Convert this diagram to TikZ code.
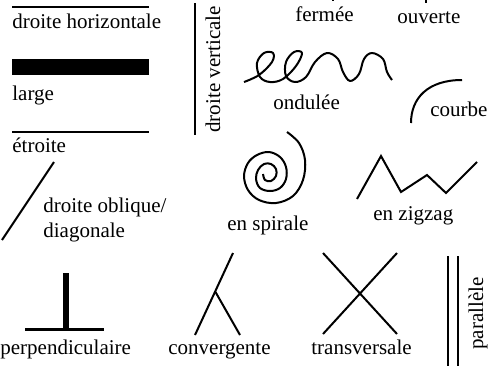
\documentclass[tikz,border=0pt]{standalone}
\usepackage{fontspec}
\setmainfont{Liberation Serif}
\usetikzlibrary{positioning}

\begin{document}
\begin{tikzpicture}[
    x=0.5pt, y=-0.5pt,
    term/.style={font=\fontsize{10.5}{12}\selectfont, inner sep=0pt, anchor=base west},
    trait/.style={line width=1pt, line cap=butt},
    fin/.style={line width=0.6pt}
  ]
  \useasboundingbox (0,0) rectangle (491,365);

  % lignes droites
  \draw[trait] (12,7) -- (149,7);
  \node[term] (horiz) at (12,28) {droite horizontale};
  \fill (12,59) rectangle (149,75);
  \node[term] (large) at (12,100) {large};
  \draw[fin] (12,132) -- (149,132);
  \node[term] (etroite) at (12,152) {étroite};
  \draw[trait] (195,3) -- (195,135);
  \node[term, rotate=90] (vert) at (220,133) {droite verticale};

  % fermee / ouverte (coupees en haut)
  \draw[trait] (333,-4) -- (333,1);
  \draw[line width=1.4pt] (426,-4) -- (426,3);
  \node[term] (fermee) at (295,21) {fermée};
  \node[term] (ouverte) at (397,23) {ouverte};

  % ondulee
  \draw[trait, line join=round] plot[smooth, tension=0.6] coordinates {
    (244,82) (259,75) (272,62) (273,53) (264,53) (257,63) (260,77) (270,82)
    (283,79) (296,66) (302,53) (294,52) (286,62) (286,76) (295,82) (306,77)
    (315,62) (327,53) (338,59) (343,72) (350,81) (359,74) (364,59) (372,53)
    (383,59) (387,72) (392,80)};
  \node[term] (ondulee) at (273,109) {ondulée};

  % courbe
  \draw[trait] (411,123) .. controls (411,98) and (428,80) .. (462,80);
  \node[term] (courbe) at (430,116) {courbe};

  % oblique
  \draw[trait] (2,240) -- (54,162);
  \node[term] (oblique) at (43,212) {droite oblique/};
  \node[term] (diag) at (43,237) {diagonale};

  % spirale
  \draw[trait, line join=round] plot[smooth, tension=0.6] coordinates {
    (287,132) (299,143) (305,160) (303,180) (293,196) (276,203) (259,200)
    (248,190) (244,176) (248,163) (257,155) (269,152) (280,157) (286,167)
    (286,179) (280,188) (270,191) (260,188) (256,179) (258,170) (264,164)
    (271,164) (276,169) (276,176) (271,181) (265,180) (263,174)};
  \node[term] (spirale) at (227,230) {en spirale};

  % zigzag
  \draw[trait] (357,199) -- (381,156) -- (401,192) -- (427,175) -- (446,193) -- (477,162);
  \node[term] (zigzag) at (373,220) {en zigzag};

  % perpendiculaire
  \draw[line width=2.8pt] (66,273) -- (66,329);
  \draw[line width=1.5pt] (25,329.5) -- (104,329.5);
  \node[term] (perp) at (0,354) {perpendiculaire};

  % convergente
  \draw[trait] (195,335) -- (233,253);
  \draw[trait] (215.5,292) -- (240,335);
  \node[term] (conv) at (168,354) {convergente};

  % transversale
  \draw[trait] (323,253) -- (397,334);
  \draw[trait] (397,253) -- (323,334);
  \node[term] (transv) at (311,354) {transversale};

  % parallele
  \draw[trait] (448,256) -- (448,366);
  \draw[trait] (458,256) -- (458,366);
  \node[term, rotate=90] (para) at (483,350) {parallèle};
\end{tikzpicture}
\end{document}
